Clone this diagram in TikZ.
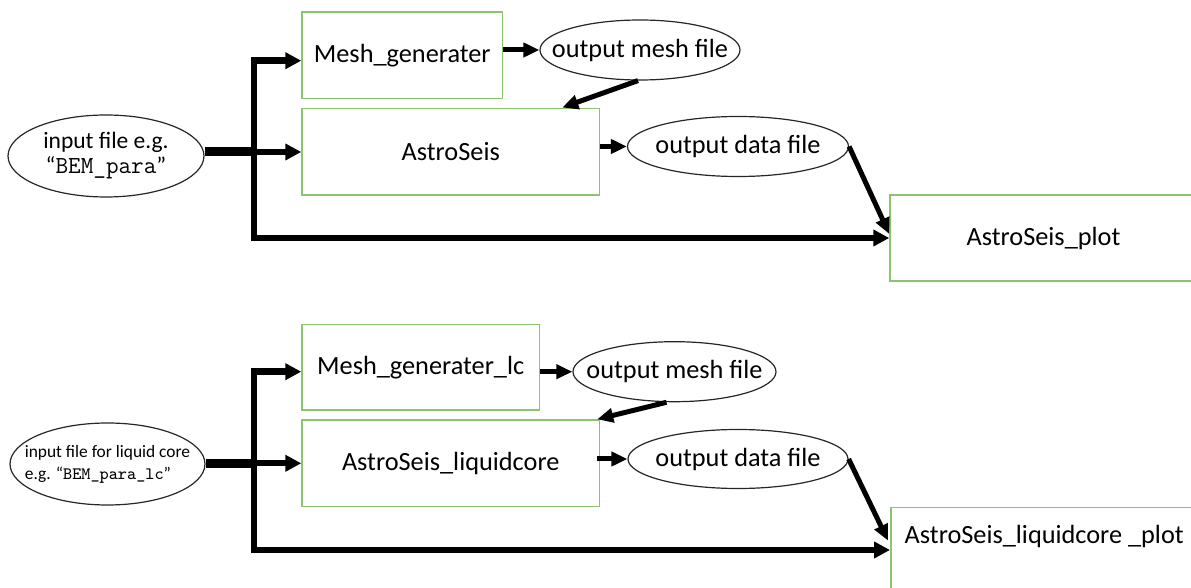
\documentclass[tikz,border=0pt]{standalone}
\usepackage{fontspec}
\setmainfont{Carlito}
\usetikzlibrary{shapes.geometric,arrows.meta}
\definecolor{boxgreen}{RGB}{140,195,110}
\begin{document}
\begin{tikzpicture}[x=0.5pt,y=-0.5pt,
	box/.style={draw=boxgreen,line width=0.75pt,inner sep=0pt,font=\fontsize{13.15pt}{15pt}\selectfont},
	oval/.style={ellipse,draw=black!85,line width=0.6pt,inner xsep=-10pt,inner ysep=0pt,font=\fontsize{13.15pt}{15pt}\selectfont},
	trunk/.style={line width=3.2pt,{Triangle[length=8pt,width=8pt]}-{Triangle[length=8pt,width=8pt]}},
	flow/.style={line width=3.2pt,-{Triangle[length=8pt,width=8pt]}},
	link/.style={line width=2.5pt,-{Triangle[length=8pt,width=7pt]}}]
	\path[use as bounding box,clip] (0,0) rectangle (1191,588);

	% solid core run
	\node[oval,minimum width=98pt,minimum height=41pt,align=center,font=\fontsize{11.75pt}{12.5pt}\selectfont] (in1) at (106,156) {input file e.g.\\“{\fontsize{12.25pt}{12.5pt}\ttfamily BEM\_para}”};
	\node[box,minimum width=100.25pt,minimum height=43.15pt] (mesh1) at (402.25,55.15) {Mesh\_generater};
	\node[box,minimum width=148.75pt,minimum height=43.35pt] (astro1) at (450.75,151.65) {AstroSeis};
	\node[box,minimum width=153.5pt,minimum height=43pt] (plot1) at (1043.5,238) {AstroSeis\_plot};
	\node[oval,minimum width=100pt,minimum height=30pt] (omesh1) at (640,50) {output mesh file};
	\node[oval,minimum width=110.5pt,minimum height=30pt] (odata1) at (738,146.5) {output data file};
	\coordinate (t1) at (254,60.7);
	\coordinate (m1) at (254,152);
	\coordinate (b1) at (254,238);
	\draw[line width=4.5pt] (in1.east |- m1) -- (m1);
	\draw[trunk] (mesh1.west |- t1) -- (t1) -- (b1) -- (plot1.west |- b1);
	\draw[flow] (m1) -- (astro1.west |- m1);
	\draw[link] (mesh1.east |- omesh1.west) -- (omesh1.west);
	\draw[link] ([xshift=-1pt]omesh1.south) -- ([xshift=-19pt]astro1.north east);
	\draw[link] (astro1.east |- odata1.west) -- (odata1.west);
	\draw[link] (odata1.east) -- ([yshift=2pt]plot1.west);

	% liquid core run
	\node[oval,minimum width=97.5pt,minimum height=41pt,align=left,font=\fontsize{8.7pt}{11pt}\selectfont] (in2) at (107.5,464) {input file for liquid core\\e.g. “{\ttfamily BEM\_para\_lc}”};
	\node[box,minimum width=118.65pt,minimum height=42.85pt] (mesh2) at (420.65,367.15) {Mesh\_generater\_lc};
	\node[box,minimum width=148.75pt,minimum height=43.35pt] (astro2) at (450.75,463.35) {AstroSeis\_liquidcore};
	\node[box,anchor=north west,minimum width=153.5pt,text height=18.15pt,text depth=25pt] (plot2) at (890,506.7) {AstroSeis\_liquidcore \_plot};
	\node[oval,minimum width=101.5pt,minimum height=30pt] (omesh2) at (674.5,371.7) {output mesh file};
	\node[oval,minimum width=110pt,minimum height=29.5pt] (odata2) at (738,459) {output data file};
	\coordinate (t2) at (254,371.7);
	\coordinate (m2) at (254,463.3);
	\coordinate (b2) at (254,550);
	\draw[line width=4.5pt] (in2.east |- m2) -- (m2);
	\draw[trunk] (mesh2.west |- t2) -- (t2) -- (b2) -- (plot2.west |- b2);
	\draw[flow] (m2) -- (astro2.west |- m2);
	\draw[link] (mesh2.east |- omesh2.west) -- (omesh2.west);
	\draw[link] ([xshift=-4pt]omesh2.south) -- ([xshift=-1.5pt]astro2.north east);
	\draw[link] ([xshift=-1.5pt]astro2.east |- odata2.west) -- (odata2.west);
	\draw[link] (odata2.east) -- ([yshift=5pt,xshift=-1pt]plot2.west);
\end{tikzpicture}
\end{document}
